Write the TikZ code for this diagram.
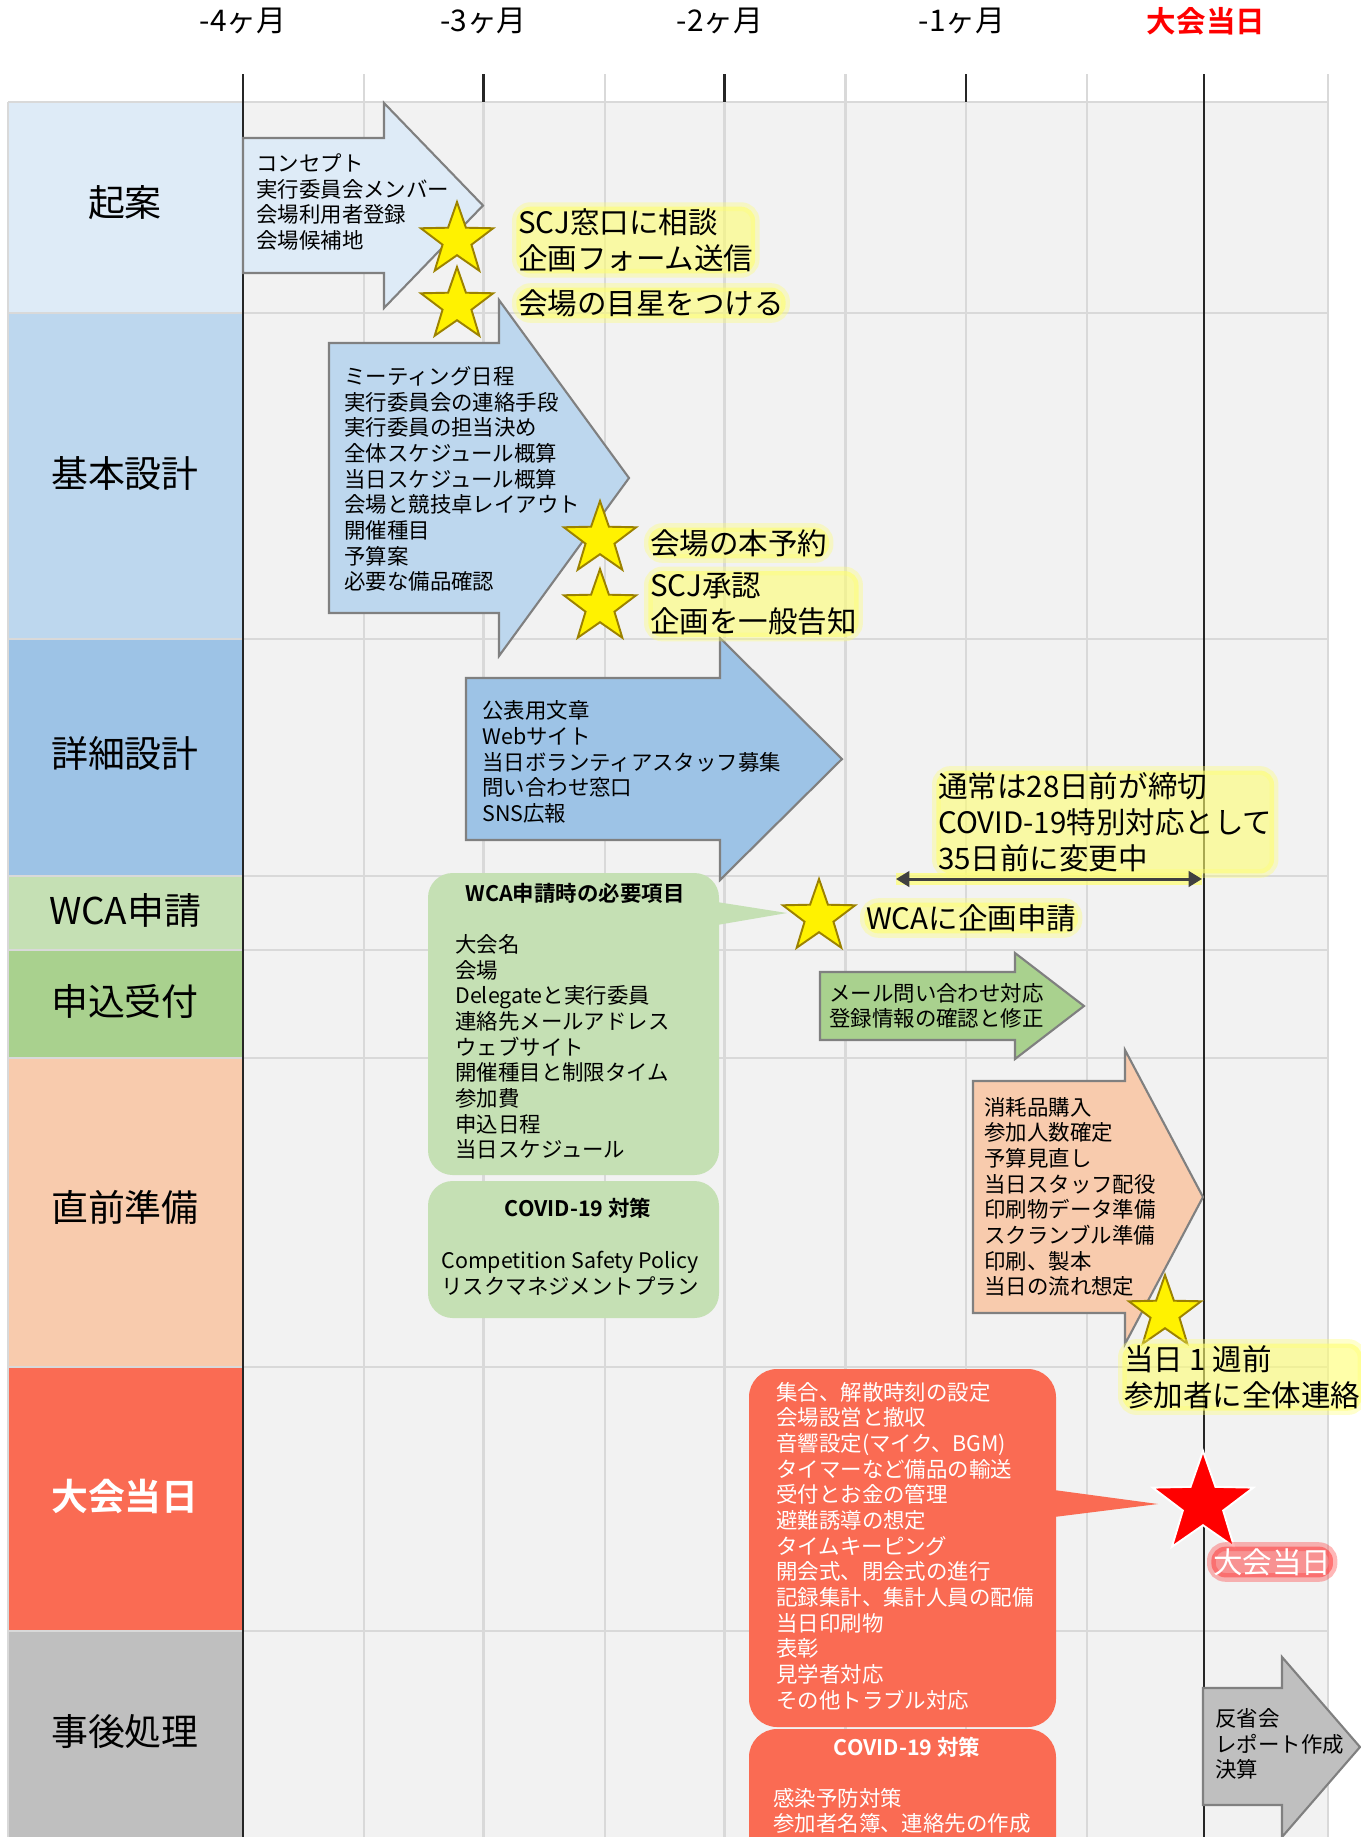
\documentclass[tikz,border=0pt]{standalone}
\usepackage{fontspec}
\setmainfont{Noto Sans CJK JP}[BoldFont={Noto Sans CJK JP Bold}]
\usetikzlibrary{shapes.geometric,arrows.meta}
\definecolor{kianC}{HTML}{DEEBF7}
\definecolor{kihonC}{HTML}{BDD7EE}
\definecolor{shosaiC}{HTML}{9DC3E6}
\definecolor{wcaC}{HTML}{C5E0B4}
\definecolor{uketukeC}{HTML}{A9D18E}
\definecolor{chokuzenC}{HTML}{F8CBAD}
\definecolor{taikaiC}{HTML}{FA6B53}
\definecolor{jigoC}{HTML}{BFBFBF}
\definecolor{bodyC}{HTML}{F2F2F2}
\definecolor{gridC}{HTML}{D9D9D9}
\definecolor{edgeC}{HTML}{808080}
\definecolor{starEdge}{HTML}{9C8200}
\definecolor{glowC}{HTML}{FFFF70}
\definecolor{arrowC}{HTML}{404040}
\tikzset{
  gridline/.style={gridC, line width=1.6pt},
  tick/.style={black!85, line width=1.3pt},
  month/.style={font=\fontsize{17}{20}\selectfont},
  rowlabel/.style={font=\fontsize{21}{25}\selectfont},
  phase/.style={draw=edgeC, line width=1.2pt, line join=miter},
  item/.style={align=left, anchor=west, inner sep=0pt, font=\fontsize{12.2}{14.6}\selectfont},
  boxtitle/.style={inner sep=0pt, font=\bfseries\fontsize{12.2}{14.6}\selectfont},
  mstar/.style={star, star points=5, star point ratio=2.5, inner sep=0pt,
    minimum size=1.52cm, fill=yellow, draw=starEdge, line width=1.1pt},
  glow/.style={fill=glowC, fill opacity=0.6, draw=glowC, draw opacity=0.35, line width=5pt,
    text opacity=1, rounded corners=8pt, inner sep=1pt, align=left, anchor=west,
    font=\fontsize{16.8}{20.5}\selectfont}
}
\begin{document}
\begin{tikzpicture}[x=0.02cm,y=-0.02cm]
  \useasboundingbox (0,0) rectangle (1361,1837);
  \fill[white] (0,0) rectangle (1361,1837);
  \fill[bodyC] (243,102) rectangle (1328,1837);
  \foreach \ya/\yb/\c in {102/313/kianC, 313/639/kihonC, 639/876/shosaiC,
      876/950/wcaC, 950/1058/uketukeC, 1058/1367/chokuzenC,
      1367/1631/taikaiC, 1631/1837/jigoC}
    \fill[\c] (8,\ya) rectangle (243,\yb);
  \foreach \y in {102,313,639,876,950,1058,1367,1631}
    \draw[gridline] (8,\y) -- (1328,\y);
  \draw[gridline] (8,102) -- (8,1837);
  \foreach \x in {364,483.5,605,724.5,845.5,966,1087,1328}
    \draw[gridline] (\x,102) -- (\x,1837);
  \foreach \x in {364,605,845.5,1087,1328}
    \draw[gridline] (\x,74) -- (\x,102);
  \foreach \x in {483.5,724.5,966}
    \draw[tick] (\x,74) -- (\x,102);
  \foreach \x in {243,1204}
    \draw[tick] (\x,74) -- (\x,1837);

  \foreach \x/\t [count=\i] in {243/-4ヶ月, 483.5/-3ヶ月, 720/-2ヶ月, 962/-1ヶ月}
    \node[month] (month\i) at (\x,21) {\t};
  \node[month, font=\bfseries\fontsize{16.8}{19}\selectfont, text=red] (month5) at (1206,21) {大会当日};

  \foreach \y/\t [count=\i] in {203/起案, 473/基本設計, 753/詳細設計, 910/WCA申請,
      1001/申込受付, 1207/直前準備, 1732/事後処理}
    \node[rowlabel] (row\i) at (125,\y) {\t};
  \node[rowlabel, font=\bfseries\fontsize{21}{25}\selectfont, text=white] (row8) at (125,1496) {大会当日};

  \draw[phase, fill=kianC] (243,138) -- (384,138) -- (384,103) -- (483,205.5)
    -- (384,308) -- (384,273) -- (243,273) -- cycle;
  \node[item] (kian) at (256,202) {コンセプト\\実行委員会メンバー\\会場利用者登録\\会場候補地};

  \draw[phase, fill=kihonC] (329,343) -- (499,343) -- (499,300) -- (629,478)
    -- (499,656) -- (499,613) -- (329,613) -- cycle;
  \node[item] (kihon) at (344,479) {ミーティング日程\\実行委員会の連絡手段\\実行委員の担当決め\\
    全体スケジュール概算\\当日スケジュール概算\\会場と競技卓レイアウト\\開催種目\\予算案\\必要な備品確認};

  \draw[phase, fill=shosaiC] (466,678) -- (720,678) -- (720,638) -- (842,759)
    -- (720,880) -- (720,840) -- (466,840) -- cycle;
  \node[item] (shosai) at (482,762) {公表用文章\\Webサイト\\当日ボランティアスタッフ募集\\問い合わせ窓口\\SNS広報};

  \draw[phase, fill=uketukeC] (820,972) -- (1015,972) -- (1015,953) -- (1084,1006)
    -- (1015,1059) -- (1015,1040) -- (820,1040) -- cycle;
  \node[item] (uketuke) at (829,1006) {メール問い合わせ対応\\登録情報の確認と修正};

  \draw[phase, fill=chokuzenC] (973,1081) -- (1125,1081) -- (1125,1050) -- (1203,1197)
    -- (1125,1344) -- (1125,1313) -- (973,1313) -- cycle;
  \node[item] (chokuzen) at (984,1197) {消耗品購入\\参加人数確定\\予算見直し\\当日スタッフ配役\\
    印刷物データ準備\\スクランブル準備\\印刷、製本\\当日の流れ想定};

  \draw[phase, fill=jigoC] (1203,1688) -- (1282,1688) -- (1282,1657) -- (1360,1747)
    -- (1282,1837) -- (1282,1805) -- (1203,1805) -- cycle;
  \node[item] (jigo) at (1215,1744) {反省会\\レポート作成\\決算};

  \fill[wcaC, rounded corners=14pt] (428,873) rectangle (719,1175);
  \fill[wcaC] (717,902) -- (787,913) -- (717,925) -- cycle;
  \node[boxtitle] (wcaTitle) at (575,893) {WCA申請時の必要項目};
  \node[item] (wcaItems) at (455,1047) {大会名\\会場\\Delegateと実行委員\\連絡先メールアドレス\\
    ウェブサイト\\開催種目と制限タイム\\参加費\\申込日程\\当日スケジュール};
  \fill[wcaC, rounded corners=14pt] (428,1181) rectangle (719,1318);
  \node[boxtitle] (wcaCovid) at (578,1208) {COVID-19 対策};
  \node[item] (wcaCovidItems) at (441,1273) {Competition Safety Policy\\リスクマネジメントプラン};

  \fill[taikaiC, rounded corners=16pt] (749,1369) rectangle (1056,1727);
  \fill[taikaiC] (1054,1490) -- (1158,1504) -- (1054,1517) -- cycle;
  \node[item, text=white] (taikai) at (776,1546) {集合、解散時刻の設定\\会場設営と撤収\\音響設定(マイク、BGM)\\
    タイマーなど備品の輸送\\受付とお金の管理\\避難誘導の想定\\タイムキーピング\\開会式、閉会式の進行\\
    記録集計、集計人員の配備\\当日印刷物\\表彰\\見学者対応\\その他トラブル対応};
  \fill[taikaiC, rounded corners=16pt] (749,1729) rectangle (1056,1900);
  \node[boxtitle, text=white] (taikaiCovid) at (907,1747) {COVID-19 対策};
  \node[item, text=white] (taikaiCovidItems) at (773,1811) {感染予防対策\\参加者名簿、連絡先の作成};

  \node[mstar] (s1) at (457,240) {};
  \node[mstar] (s2) at (457,305) {};
  \node[mstar] (s3) at (600,539) {};
  \node[mstar] (s4) at (600,607) {};
  \node[mstar] (s5) at (819,917) {};
  \node[mstar] (s6) at (1165,1313) {};
  \node[mstar, minimum size=2.12cm, fill=red, draw=white] (sDay) at (1203,1504) {};

  \node[glow] (g1) at (512,240) {SCJ窓口に相談\\企画フォーム送信};
  \node[glow] (g2) at (512,303) {会場の目星をつける};
  \node[glow] (g3) at (644,543) {会場の本予約};
  \node[glow] (g4) at (644,604) {SCJ承認\\企画を一般告知};
  \node[glow] (g5) at (932,822) {通常は28日前が締切\\COVID-19特別対応として\\35日前に変更中};
  \node[glow] (g6) at (860,918) {WCAに企画申請};
  \node[glow] (g7) at (1118,1377) {当日 1 週前\\参加者に全体連絡};
  \node[glow, fill=red!80, draw=red!80, fill opacity=0.5, text=white] (g8) at (1207,1562) {大会当日};

  \coordinate (dl) at (896,879);
  \coordinate (dr) at (1202,879);
  \draw[glowC, line width=7pt, opacity=0.7] (dl) -- (dr);
  \draw[{Triangle[]}-{Triangle[]}, arrowC, line width=1.7pt] (dl) -- (dr);
\end{tikzpicture}
\end{document}
